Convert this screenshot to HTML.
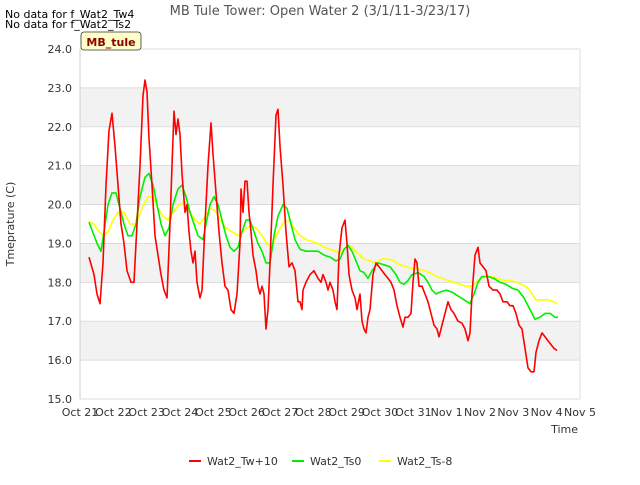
<!DOCTYPE html>
<html><head><meta charset="utf-8"><style>
body{margin:0;background:#fff;font-family:"Liberation Sans","DejaVu Sans",sans-serif;}
</style></head><body>
<svg width="640" height="480" xmlns="http://www.w3.org/2000/svg" style="font-family:'DejaVu Sans','Liberation Sans',sans-serif">
<text x="5" y="18" font-size="11">No data for f_Wat2_Tw4</text>
<text x="5" y="28" font-size="11">No data for f_Wat2_Ts2</text>
<text x="320" y="15" font-size="13" fill="#555" text-anchor="middle">MB Tule Tower: Open Water 2 (3/1/11-3/23/17)</text>
<g id="plot"></g>
<g id="axes"></g>
<g id="series"></g>
<rect x="81" y="32" width="60" height="18" rx="3" fill="#ffffc8" stroke="#333" stroke-width="0.8"/>
<text x="111" y="46" font-size="11" font-weight="bold" fill="#8b0000" text-anchor="middle">MB_tule</text>
<text x="14" y="224" font-size="11" fill="#333" text-anchor="middle" transform="rotate(-90 14 224)">Tmeprature (C)</text>
<text x="578" y="433" font-size="11" fill="#333" text-anchor="end">Time</text>
<g>
<line x1="189" y1="461" x2="201" y2="461" stroke="#ff0000" stroke-width="2"/>
<text x="207" y="465" font-size="11" fill="#333">Wat2_Tw+10</text>
<line x1="292" y1="461" x2="304" y2="461" stroke="#00ee00" stroke-width="2"/>
<text x="310" y="465" font-size="11" fill="#333">Wat2_Ts0</text>
<line x1="379" y1="461" x2="391" y2="461" stroke="#ffff00" stroke-width="2"/>
<text x="397" y="465" font-size="11" fill="#333">Wat2_Ts-8</text>
</g>
</svg>
<script>
const xTickLabels=["Oct 21","Oct 22","Oct 23","Oct 24","Oct 25","Oct 26","Oct 27","Oct 28","Oct 29","Oct 30","Oct 31","Nov 1","Nov 2","Nov 3","Nov 4","Nov 5"];
const yTicks=[15,16,17,18,19,20,21,22,23,24];
const twT=[0.27,0.42,0.51,0.6,0.69,0.78,0.87,0.96,1.05,1.14,1.23,1.32,1.41,1.53,1.62,1.71,1.8,1.89,1.95,2.01,2.07,2.16,2.25,2.34,2.43,2.52,2.61,2.7,2.76,2.82,2.88,2.94,3.0,3.06,3.15,3.21,3.27,3.33,3.39,3.45,3.51,3.6,3.66,3.75,3.84,3.93,3.99,4.08,4.17,4.26,4.35,4.44,4.53,4.62,4.71,4.8,4.83,4.89,4.95,5.01,5.07,5.13,5.19,5.28,5.34,5.4,5.46,5.52,5.58,5.64,5.7,5.79,5.88,5.94,6.0,6.09,6.18,6.27,6.36,6.45,6.54,6.6,6.66,6.69,6.78,6.9,7.02,7.14,7.23,7.29,7.38,7.44,7.5,7.59,7.65,7.71,7.77,7.86,7.95,8.01,8.07,8.16,8.25,8.31,8.4,8.46,8.52,8.58,8.64,8.7,8.79,8.88,8.97,9.06,9.15,9.24,9.33,9.42,9.51,9.6,9.69,9.75,9.84,9.93,9.99,10.05,10.11,10.17,10.26,10.35,10.44,10.53,10.62,10.71,10.77,10.86,10.95,11.04,11.13,11.22,11.34,11.46,11.55,11.64,11.7,11.76,11.85,11.94,12.0,12.09,12.18,12.27,12.39,12.51,12.6,12.69,12.81,12.9,12.99,13.08,13.17,13.26,13.35,13.44,13.53,13.62,13.68,13.77,13.86,13.95,14.04,14.13,14.22,14.31];
const twV=[18.65,18.2,17.7,17.45,18.5,20.5,21.9,22.35,21.5,20.5,19.5,19.0,18.3,18.0,18.0,19.5,21.0,22.8,23.2,22.9,21.7,20.5,19.2,18.7,18.2,17.8,17.6,19.5,21.0,22.4,21.8,22.2,21.8,20.8,19.8,20.0,19.3,18.8,18.5,18.8,18.0,17.6,17.8,19.5,21.0,22.1,21.3,20.3,19.3,18.5,17.9,17.8,17.3,17.2,17.7,19.0,20.4,19.8,20.6,20.6,19.8,19.3,18.7,18.3,17.9,17.7,17.9,17.7,16.8,17.3,18.5,20.5,22.3,22.45,21.5,20.5,19.3,18.4,18.5,18.3,17.5,17.5,17.3,17.8,18.0,18.2,18.3,18.1,18.0,18.2,18.0,17.8,18.0,17.8,17.5,17.3,18.7,19.4,19.6,19.0,18.2,17.8,17.6,17.3,17.7,17.0,16.8,16.7,17.1,17.3,18.2,18.5,18.4,18.3,18.2,18.1,18.0,17.8,17.4,17.1,16.85,17.1,17.1,17.2,18.0,18.6,18.5,17.9,17.9,17.7,17.5,17.2,16.9,16.8,16.6,16.9,17.2,17.5,17.3,17.2,17.0,16.95,16.8,16.5,16.7,17.7,18.7,18.9,18.5,18.4,18.3,17.9,17.8,17.8,17.7,17.5,17.5,17.4,17.4,17.2,16.9,16.8,16.3,15.8,15.7,15.7,16.2,16.5,16.7,16.6,16.5,16.4,16.3,16.25];
const ts0T=[0.27,0.51,0.63,0.72,0.84,0.96,1.08,1.2,1.32,1.44,1.56,1.68,1.8,1.95,2.07,2.19,2.31,2.43,2.55,2.67,2.79,2.94,3.06,3.18,3.3,3.42,3.54,3.69,3.78,3.9,4.02,4.14,4.26,4.38,4.5,4.62,4.74,4.86,4.98,5.1,5.22,5.34,5.46,5.58,5.7,5.82,5.94,6.09,6.21,6.33,6.45,6.6,6.78,6.96,7.14,7.32,7.5,7.68,7.8,7.92,8.04,8.16,8.28,8.4,8.52,8.64,8.76,8.94,9.12,9.3,9.48,9.6,9.72,9.84,9.96,10.14,10.32,10.44,10.56,10.68,10.8,10.98,11.16,11.34,11.52,11.7,11.82,11.94,12.06,12.24,12.42,12.6,12.78,12.96,13.14,13.32,13.5,13.65,13.8,13.95,14.1,14.25,14.34];
const ts0V=[19.55,19.0,18.8,19.3,20.0,20.3,20.3,19.9,19.5,19.2,19.2,19.5,20.2,20.7,20.8,20.5,20.0,19.5,19.2,19.4,20.0,20.4,20.5,20.2,19.8,19.5,19.2,19.1,19.5,20.0,20.2,20.0,19.6,19.2,18.9,18.8,18.9,19.3,19.6,19.6,19.3,19.0,18.8,18.5,18.5,19.2,19.7,20.0,19.9,19.5,19.1,18.85,18.8,18.8,18.8,18.7,18.65,18.55,18.6,18.85,18.95,18.8,18.55,18.3,18.25,18.1,18.3,18.5,18.45,18.4,18.2,18.0,17.95,18.05,18.2,18.25,18.15,18.0,17.8,17.7,17.75,17.8,17.75,17.65,17.55,17.45,17.7,18.0,18.15,18.15,18.1,18.0,17.95,17.85,17.8,17.6,17.3,17.05,17.1,17.2,17.2,17.1,17.1];
const ts8T=[0.27,0.42,0.57,0.72,0.84,0.99,1.14,1.32,1.5,1.68,1.86,2.04,2.19,2.34,2.49,2.64,2.79,2.97,3.15,3.3,3.45,3.6,3.75,3.9,4.05,4.2,4.38,4.56,4.74,4.92,5.1,5.28,5.46,5.64,5.79,5.94,6.12,6.27,6.42,6.6,6.78,6.96,7.14,7.32,7.5,7.68,7.8,7.92,8.04,8.16,8.34,8.52,8.7,8.88,9.06,9.24,9.42,9.6,9.78,9.96,10.14,10.32,10.5,10.68,10.86,11.04,11.22,11.4,11.58,11.76,11.88,12.0,12.18,12.36,12.54,12.72,12.9,13.08,13.26,13.44,13.56,13.68,13.86,14.04,14.22,14.31];
const ts8V=[19.55,19.5,19.3,19.2,19.3,19.6,19.8,19.8,19.5,19.5,19.9,20.2,20.2,19.9,19.7,19.6,19.8,20.0,20.05,19.8,19.6,19.5,19.7,19.9,19.85,19.6,19.4,19.3,19.2,19.35,19.45,19.4,19.2,18.95,19.0,19.3,19.55,19.6,19.4,19.2,19.1,19.05,19.0,18.9,18.85,18.8,18.75,18.85,18.95,18.9,18.75,18.6,18.55,18.5,18.6,18.6,18.55,18.45,18.4,18.35,18.35,18.3,18.25,18.15,18.1,18.05,18.0,17.95,17.9,17.9,18.0,18.1,18.15,18.15,18.1,18.05,18.05,18.0,17.95,17.85,17.7,17.55,17.55,17.55,17.5,17.45];
const NS="http://www.w3.org/2000/svg";
const X0=80,X1=580,Y0=399,Y1=49,D0=0,D1=15,V0=15,V1=24;
function xs(d){return X0+(d-D0)/(D1-D0)*(X1-X0);}
function ys(v){return Y0-(v-V0)/(V1-V0)*(Y0-Y1);}
function mk(tag,attrs,parent){const e=document.createElementNS(NS,tag);for(const k in attrs)e.setAttribute(k,attrs[k]);parent.appendChild(e);return e;}
const plot=document.getElementById('plot'),axes=document.getElementById('axes'),series=document.getElementById('series');
const bg=mk('rect',{x:X0,y:Y1,width:X1-X0,height:Y0-Y1,fill:'#fff'},plot);


for(let i=0;i<yTicks.length-1;i++){
  if(yTicks[i]%2===0){
    const b=mk('rect',{x:X0,y:ys(yTicks[i]+1),width:X1-X0,height:ys(yTicks[i])-ys(yTicks[i]+1),fill:'#f2f2f2'},plot);
    
    
  }
}
yTicks.forEach(v=>{
  const g=mk('line',{x1:X0,x2:X1,y1:ys(v),y2:ys(v),stroke:'#dcdcdc','stroke-width':1},plot);
  
  
  const t=mk('text',{x:X0-8,y:ys(v)+4,'font-size':11,fill:'#333','text-anchor':'end'},axes);
  t.textContent=v.toFixed(1);
  
  
});
const ax=mk('line',{x1:X0,x2:X0,y1:Y1,y2:Y0,stroke:'#ccc'},axes);


const rx=mk('line',{x1:X1,x2:X1,y1:Y1,y2:Y0,stroke:'#ddd'},axes);


xTickLabels.forEach((l,i)=>{
  const t=mk('text',{x:xs(i),y:Y0+17,'font-size':11,fill:'#333','text-anchor':'middle'},axes);
  t.textContent=l;
  
  
});
function line(T,V,color,name){
  const d=T.map((t,i)=>(i?'L':'M')+xs(t).toFixed(1)+','+ys(V[i]).toFixed(1)).join('');
  const p=mk('path',{d:d,fill:'none',stroke:color,'stroke-width':1.6,'stroke-linejoin':'round'},series);
  
  
}
line(ts8T,ts8V,'#ffff00','series-wat2-ts-8');
line(ts0T,ts0V,'#00ee00','series-wat2-ts0');
line(twT,twV,'#ff0000','series-wat2-tw10');
</script>
</body></html>
